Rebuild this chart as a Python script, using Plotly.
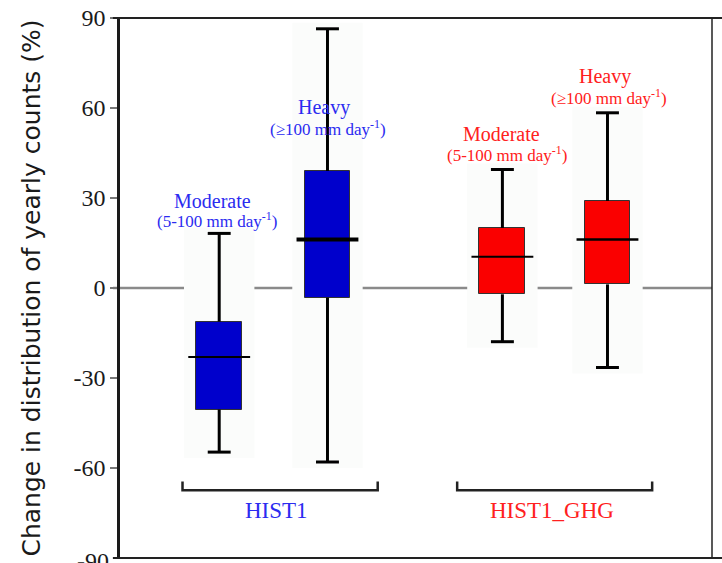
import plotly.graph_objects as go

# Box statistics (% change in yearly counts)
experiments = ["HIST1", "HIST1_GHG"]
classes = ["Moderate", "Heavy"]
class_ranges = ["(5-100 mm day<sup>-1</sup>)", "(\u2265100 mm day<sup>-1</sup>)"]
lower_whisker = [-54.7, -58.0, -17.9, -26.5]
q1 = [-40.5, -3.2, -2.1, 1.2]
median = [-23.0, 16.2, 10.4, 16.2]
q3 = [-11.2, 39.0, 20.0, 29.0]
upper_whisker = [18.2, 86.4, 39.5, 58.4]
tick_values = [-90, -60, -30, 0, 30, 60, 90]
tick_labels = ["-90", "-60", "-30", "0", "30", "60", "90"]

SERIF = "Liberation Serif, Times New Roman, serif"

# Layout helpers
positions = [1.0, 2.015, 3.655, 4.64]
box_fill = ["#0000cc", "#0000cc", "#fa0000", "#fa0000"]
text_color = {"HIST1": "#2b2bf0", "HIST1_GHG": "#ff2020"}
box_exp = ["HIST1", "HIST1", "HIST1_GHG", "HIST1_GHG"]
box_cls = [0, 1, 0, 1]
median_width = [2, 4, 2, 2.5]
BOX_W, CAP_W, MED_W, SHADE_W = 0.43, 0.215, 0.58, 0.66
XR = [0.07, 5.62]
YR = [-90, 90]

fig = go.Figure()

shapes = []
# zero reference line
shapes.append(dict(type="line", xref="paper", yref="y", x0=-0.012, x1=1.0, y0=0, y1=0,
                   line=dict(color="#8a8a8a", width=2.5), layer="below"))
# faint panels behind each box
for p, lo, hi in zip(positions, lower_whisker, upper_whisker):
    shapes.append(dict(type="rect", xref="x", yref="y", x0=p - SHADE_W / 2, x1=p + SHADE_W / 2,
                       y0=lo - 2, y1=hi + 2, fillcolor="#fbfcfb", line=dict(width=0), layer="below"))

# boxes as floating bars
fig.add_trace(go.Bar(
    x=positions, y=[b - a for a, b in zip(q1, q3)], base=q1, width=BOX_W,
    marker=dict(color=box_fill, line=dict(color="#333333", width=1)),
    showlegend=False, hoverinfo="skip"))

# whiskers, caps and medians
for i, p in enumerate(positions):
    xs = [p, p, None, p, p, None,
          p - CAP_W / 2, p + CAP_W / 2, None, p - CAP_W / 2, p + CAP_W / 2]
    ys = [q3[i], upper_whisker[i], None, q1[i], lower_whisker[i], None,
          upper_whisker[i], upper_whisker[i], None, lower_whisker[i], lower_whisker[i]]
    fig.add_trace(go.Scatter(x=xs, y=ys, mode="lines", line=dict(color="black", width=3),
                             showlegend=False, hoverinfo="skip"))
    fig.add_trace(go.Scatter(x=[p - MED_W / 2, p + MED_W / 2], y=[median[i], median[i]], mode="lines",
                             line=dict(color="black", width=median_width[i]),
                             showlegend=False, hoverinfo="skip"))

annotations = []
# class labels above each box
label_xy = [(0.937, 29.0, 0.979, 22.6), (1.987, 60.3, 2.022, 53.4),
            (3.65, 51.2, 3.694, 44.8), (4.615, 70.4, 4.658, 63.8)]
for i, (xa, ya, xb, yb) in enumerate(label_xy):
    col = text_color[box_exp[i]]
    annotations.append(dict(x=xa, y=ya, xref="x", yref="y", text=classes[box_cls[i]], showarrow=False,
                            font=dict(family=SERIF, size=20, color=col)))
    annotations.append(dict(x=xb, y=yb, xref="x", yref="y", text=class_ranges[box_cls[i]], showarrow=False,
                            font=dict(family=SERIF, size=17, color=col)))

# experiment brackets and names
bracket_x = [(0.656, 2.486), (3.231, 5.059)]
name_x = [1.539, 4.119]
for exp, (b0, b1), nx in zip(experiments, bracket_x, name_x):
    fig.add_trace(go.Scatter(x=[b0, b0, b1, b1], y=[-64.5, -67.4, -67.4, -64.5], mode="lines",
                             line=dict(color="#222222", width=2.5), showlegend=False, hoverinfo="skip"))
    annotations.append(dict(x=nx, y=-74.2, xref="x", yref="y", text=exp, showarrow=False,
                            font=dict(family=SERIF, size=23, color=text_color[exp])))

# bottom tick label, partly below the page edge
annotations.append(dict(x=0, y=YR[0], xref="paper", yref="y", text=tick_labels[0], showarrow=False,
                        xanchor="right", xshift=-9, yshift=-3,
                        font=dict(family=SERIF, size=24, color="#1a1a1a")))

# frame: top and bottom rules run to the page edge, thin right border
shapes.append(dict(type="line", xref="paper", yref="paper", x0=-0.012, x1=1.02, y0=1, y1=1,
                   line=dict(color="#222222", width=2)))
shapes.append(dict(type="line", xref="paper", yref="paper", x0=-0.012, x1=1.02, y0=0, y1=0,
                   line=dict(color="#222222", width=2)))
shapes.append(dict(type="line", xref="paper", yref="paper", x0=1, x1=1, y0=0, y1=1,
                   line=dict(color="#222222", width=1.5)))

fig.update_layout(
    width=722, height=563,
    margin=dict(l=120, r=10, t=13, b=5),
    paper_bgcolor="white", plot_bgcolor="white",
    shapes=shapes, annotations=annotations,
    xaxis=dict(range=XR, visible=False, fixedrange=True),
    yaxis=dict(range=YR, tickvals=tick_values[1:], ticktext=tick_labels[1:],
               showgrid=False, zeroline=False, showline=True, linecolor="#1a1a1a", linewidth=2.5,
               ticks="outside", ticklen=7, tickwidth=2, tickcolor="#777777",
               tickfont=dict(family=SERIF, size=24, color="#1a1a1a"),
               title=dict(text="Change in distribution of yearly counts (%)", standoff=26,
                          font=dict(family="DejaVu Sans", size=25, color="#1a1a1a"))),
    bargap=0,
)

fig.write_html("out.html")
